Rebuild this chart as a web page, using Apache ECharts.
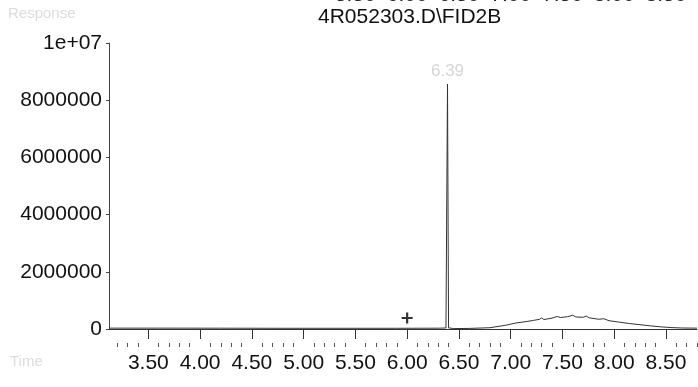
<!DOCTYPE html>
<html>
<head>
<meta charset="utf-8">
<script src="https://cdn.jsdelivr.net/npm/echarts@6/dist/echarts.min.js"></script>
<style>
  html, body { margin: 0; padding: 0; background: #fff; }
  #chart { width: 698px; height: 387px; }
</style>
</head>
<body>
<div id="chart"></div>
<script>
// FID2B signal trace: retention time (min) and detector response
const times = [
  3.12, 3.60, 4.20, 4.80, 5.40, 5.90, 6.30, 6.375, 6.39, 6.40, 6.45, 6.60,
  6.80, 6.95, 7.05, 7.15, 7.22, 7.28, 7.30, 7.32, 7.40, 7.45, 7.48, 7.55,
  7.60, 7.63, 7.70, 7.73, 7.76, 7.85, 7.90, 7.95, 8.05, 8.15, 8.25, 8.35,
  8.45, 8.55, 8.65, 8.80
];
const response = [
  30000, 30000, 28000, 25000, 25000, 25000, 28000, 35000, 8560000, 40000, 15000, 20000,
  45000, 130000, 210000, 260000, 300000, 340000, 390000, 330000, 380000, 440000, 400000, 430000,
  480000, 420000, 410000, 450000, 390000, 340000, 360000, 290000, 240000, 190000, 150000, 110000,
  75000, 50000, 35000, 30000
];

// labelled peak (retention time)
const peakTime = 6.39;

// event marker
const markerPoint = [6.00, 385000];

// axis ticks
const xTickValues = [3.5, 4.0, 4.5, 5.0, 5.5, 6.0, 6.5, 7.0, 7.5, 8.0, 8.5];
const xTopLabelValues = [5.5, 6.0, 6.5, 7.0, 7.5, 8.0, 8.5];

const xMin = 3.12, xMax = 8.80;

// minor ticks every 0.1 min between the major ones
const xMinorValues = [];
for (let k = Math.ceil(xMin * 10); k <= Math.floor(xMax * 10); k++) {
  if (k % 5 !== 0) xMinorValues.push(k / 10);
}

const trace = times.map((t, i) => [t, response[i]]);
const peakIndex = times.indexOf(peakTime);
const peakPoint = [times[peakIndex], response[peakIndex]];

const font = 'Liberation Sans';

const chart = echarts.init(document.getElementById('chart'), null, { renderer: 'canvas' });
chart.setOption({
  animation: false,
  backgroundColor: '#ffffff',
  title: {
    text: '4R052303.D\\FID2B',
    left: 313,
    top: 2,
    textStyle: { fontFamily: font, fontSize: 21, fontWeight: 'normal', color: '#111' }
  },
  grid: {
    left: 109, right: 1, top: 43, bottom: 58,
    containLabel: false,
    outerBoundsMode: 'none'
  },
  xAxis: [
    {
      type: 'value', min: xMin, max: xMax, position: 'bottom', offset: 14,
      splitLine: { show: false },
      axisLine: { show: true, lineStyle: { color: '#333', width: 1 } },
      axisTick: { show: true, length: 10, customValues: xTickValues, lineStyle: { color: '#333' } },
      axisLabel: {
        customValues: xTickValues, margin: 10, color: '#111',
        fontFamily: font, fontSize: 21,
        formatter: v => v.toFixed(2)
      }
    },
    {
      type: 'value', min: xMin, max: xMax, position: 'bottom', offset: 14,
      splitLine: { show: false },
      axisLine: { show: false },
      axisTick: { show: true, length: 4, customValues: xMinorValues, lineStyle: { color: '#555' } },
      axisLabel: { show: false }
    },
    {
      type: 'value', min: xMin, max: xMax, position: 'top',
      splitLine: { show: false },
      axisLine: { show: false },
      axisTick: { show: false },
      axisLabel: {
        customValues: xTopLabelValues, margin: 37, color: '#222',
        fontFamily: font, fontSize: 21,
        formatter: v => v.toFixed(2)
      }
    }
  ],
  yAxis: {
    type: 'value', min: 0, max: 10000000, interval: 2000000,
    splitLine: { show: false },
    axisLine: { show: true, lineStyle: { color: '#444', width: 1 } },
    axisTick: { show: true, length: 3, lineStyle: { color: '#444' } },
    axisLabel: {
      margin: 7, color: '#111', fontFamily: font, fontSize: 21,
      formatter: v => (v >= 10000000 ? '1e+07' : String(v))
    }
  },
  graphic: [
    {
      type: 'text', left: 8, top: 6,
      style: { text: 'Response', fill: '#dcdcdc', font: '15px "Liberation Sans"' }
    },
    {
      type: 'text', left: 10, top: 354,
      style: { text: 'Time', fill: '#dcdcdc', font: '15px "Liberation Sans"' }
    }
  ],
  series: [
    {
      type: 'line',
      data: trace,
      xAxisIndex: 0, yAxisIndex: 0,
      showSymbol: false,
      symbol: 'none',
      lineStyle: { color: '#333', width: 1 },
      z: 3
    },
    {
      // retention-time label above the main peak
      type: 'scatter',
      data: [peakPoint],
      xAxisIndex: 0, yAxisIndex: 0,
      symbolSize: 0,
      silent: true,
      label: {
        show: true,
        position: 'top',
        distance: 4,
        color: '#cccccc',
        fontSize: 17,
        fontFamily: font,
        formatter: p => p.value[0].toFixed(2)
      },
      z: 2
    },
    {
      type: 'scatter',
      data: [markerPoint],
      xAxisIndex: 0, yAxisIndex: 0,
      symbol: 'path://M4,0H6V4H10V6H6V10H4V6H0V4H4Z',
      symbolSize: 11,
      itemStyle: { color: '#000' },
      z: 4
    }
  ]
});
</script>
</body>
</html>
